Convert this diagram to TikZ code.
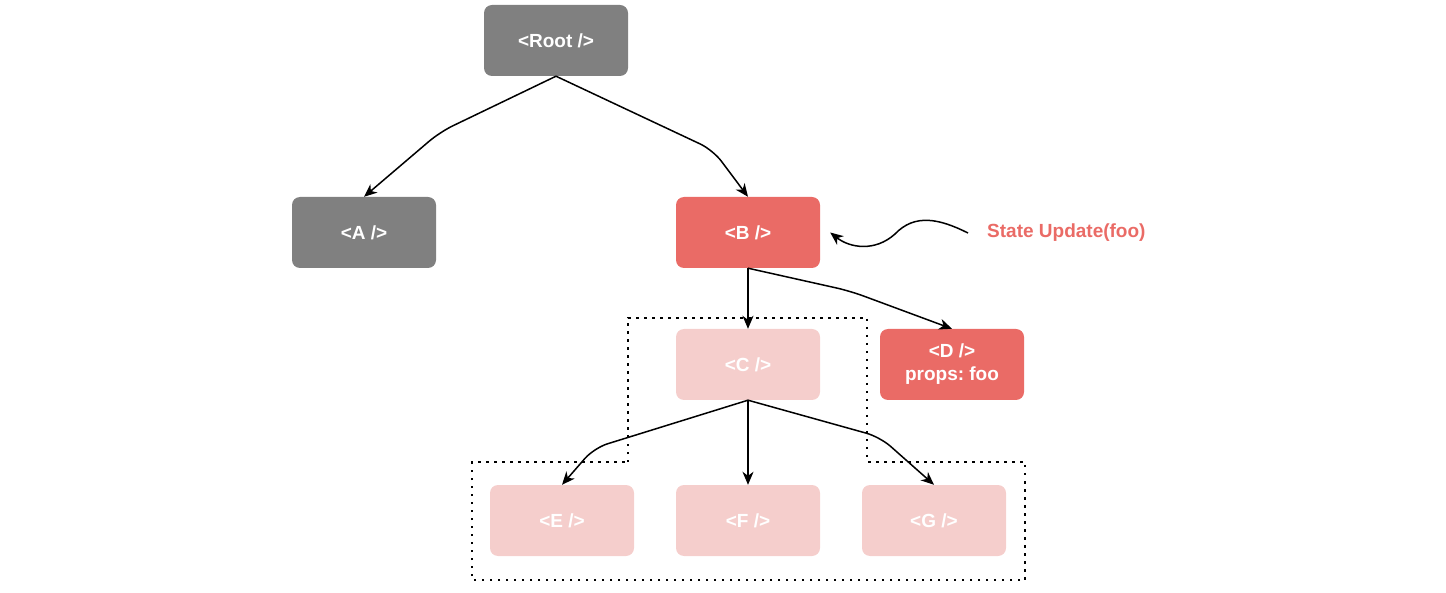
\documentclass[tikz,border=0pt]{standalone}
\usepackage{fontspec}
\setmainfont{Liberation Sans}
\frenchspacing
\usetikzlibrary{arrows.meta}
\definecolor{grayfill}{HTML}{808080}
\definecolor{redfill}{HTML}{EA6B66}
\definecolor{palefill}{HTML}{F5CECC}
\tikzset{
  box/.style={rounded corners=8pt, minimum width=144pt, minimum height=71pt, inner sep=0pt,
    text=white, font=\fontsize{19}{23}\selectfont\bfseries, align=center},
  graybox/.style={box, fill=grayfill},
  redbox/.style={box, fill=redfill},
  palebox/.style={box, fill=palefill},
  arrowtip/.style={-{Stealth[length=13pt,width=11pt,inset=4pt]}},
  edge/.style={line width=1.5pt, arrowtip, rounded corners=14pt},
  dotline/.style={line width=2.5pt, dash pattern=on 2.5pt off 5.5pt},
}
\begin{document}
\begin{tikzpicture}[x=1pt,y=-1pt]
\useasboundingbox (0,0) rectangle (1446,593);
% dotted outline
\draw[dotline] (628,462) -- (628,318) -- (867,318) -- (867,462) -- (1025,462) -- (1025,580) -- (472,580) -- (472,462) -- cycle;
% nodes
\node[graybox] (root) at (556,40.5) {<Root />};
\node[graybox] (a) at (364,232.5) {<A />};
\node[redbox] (b) at (748,232.5) {<B />};
\node[palebox] (c) at (748,364.5) {<C />};
\node[redbox] (d) at (952,364.5) {<D />\\props: foo};
\node[palebox] (e) at (562,520.5) {<E />};
\node[palebox] (f) at (748,520.5) {<F />};
\node[palebox] (g) at (934,520.5) {<G />};
\node[anchor=west, text=redfill, font=\fontsize{19}{23}\selectfont\bfseries, inner sep=0pt] (su) at (987,233) {State Update(foo)};
% edges
\draw[edge] (root.south) -- (440,132) -- (a.north);
\draw[edge] (root.south) -- (713,150) -- (b.north);
\draw[edge] (b.south) -- (c.north);
\draw[edge] (b.south) -- (850,291) -- (d.north);
\draw[edge] (c.south) -- (594,448) -- (e.north);
\draw[edge] (c.south) -- (f.north);
\draw[edge] (c.south) -- (880,437) -- (g.north);
% state update wave
\coordinate (suend) at (968,233);
\coordinate (btip) at ([xshift=10pt]b.east);
\draw[line width=1.5pt, arrowtip]
  (suend) .. controls (940,219) and (915,213) .. (895,234)
  .. controls (875,252) and (850,248) .. (btip);
\end{tikzpicture}
\end{document}
